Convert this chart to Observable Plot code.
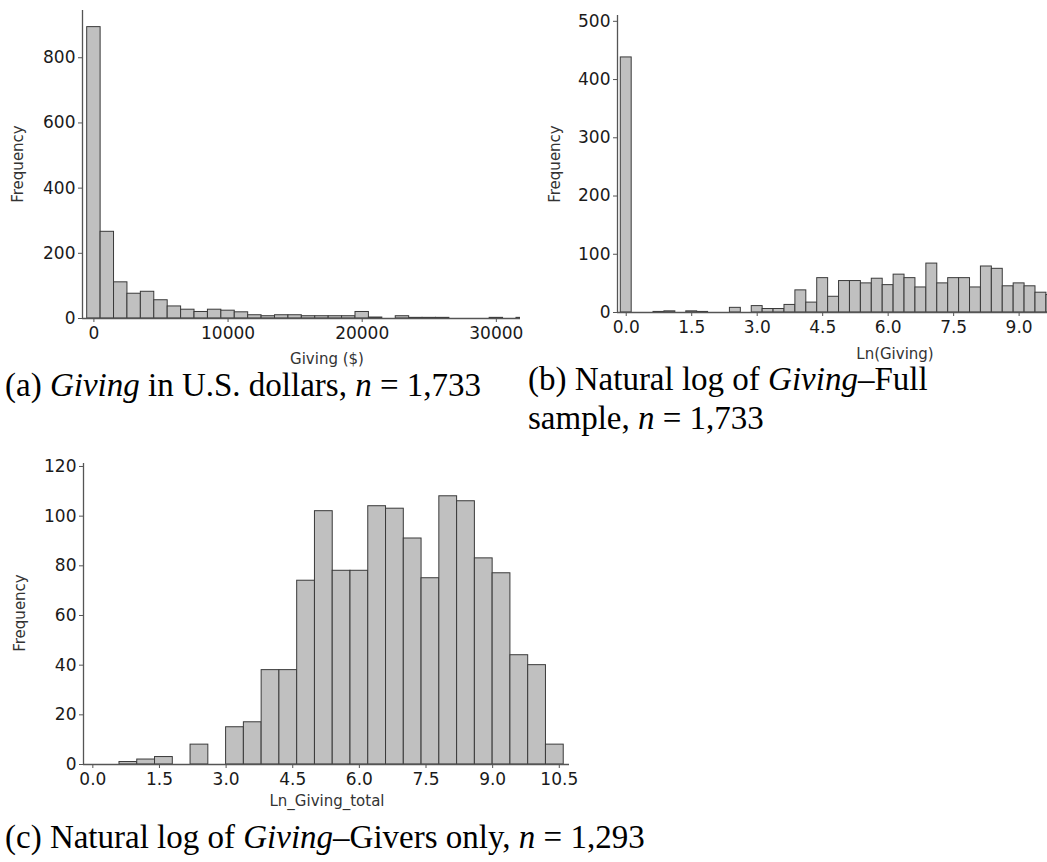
<!DOCTYPE html>
<html>
<head>
<meta charset="utf-8">
<script src="https://cdn.jsdelivr.net/npm/d3@7"></script>
<script src="https://cdn.jsdelivr.net/npm/@observablehq/plot@0.6"></script>
<style>
  html, body { margin: 0; padding: 0; background: #fff; }
  #page { position: relative; width: 1047px; height: 862px; overflow: hidden; background: #fff; }
  .panel { position: absolute; }
  .axt { position: absolute; font-family: "DejaVu Sans", Verdana, sans-serif; font-size: 15px; line-height: 1; color: #333; white-space: nowrap; transform: translate(-50%, -50%); }
  .axt.rot { transform: translate(-50%, -50%) rotate(-90deg); }
  .cap { position: absolute; font-family: "Liberation Serif", "Times New Roman", serif; font-size: 33px; line-height: 1; color: #000; white-space: nowrap; }
</style>
</head>
<body>
<div id="page"></div>
<script>
// ---------- Data ----------
// (a) Giving in U.S. dollars: bin centers (width 1000) and frequencies
const givingBins = [0,1000,2000,3000,4000,5000,6000,7000,8000,9000,10000,11000,12000,13000,14000,15000,16000,17000,18000,19000,20000,21000,22000,23000,24000,25000,26000,27000,28000,29000,30000,31000,32000];
const givingFreq = [894,266,111,76,82,56,37,27,20,27,24,19,10,7,10,10,7,7,7,7,20,3,0,7,2,2,2,0,0,0,2,0,2];
const givingTicksX = [0,10000,20000,30000];
const givingTicksY = [0,200,400,600,800];

// (b) Ln(Giving), full sample: bin centers (width 0.25) and frequencies
const lnFullBins = [0,0.25,0.5,0.75,1,1.25,1.5,1.75,2,2.25,2.5,2.75,3,3.25,3.5,3.75,4,4.25,4.5,4.75,5,5.25,5.5,5.75,6,6.25,6.5,6.75,7,7.25,7.5,7.75,8,8.25,8.5,8.75,9,9.25,9.5,9.75];
const lnFullFreq = [438,0,0,1,2,0,2,1,0,0,8,0,11,6,6,13,38,17,59,27,54,54,50,58,47,65,59,43,84,50,59,59,43,79,75,45,50,45,34,30];
const lnFullTicksX = [0,1.5,3,4.5,6,7.5,9];
const lnFullTicksY = [0,100,200,300,400,500];

// (c) Ln_Giving_total, givers only: bin centers (width 0.4) and frequencies
const lnGiversBins = [0.8,1.2,1.6,2.0,2.4,2.8,3.2,3.6,4.0,4.4,4.8,5.2,5.6,6.0,6.4,6.8,7.2,7.6,8.0,8.4,8.8,9.2,9.6,10.0,10.4];
const lnGiversFreq = [1,2,3,0,8,0,15,17,38,38,74,102,78,78,104,103,91,75,108,106,83,77,44,40,8];
const lnGiversTicksX = [0,1.5,3,4.5,6,7.5,9,10.5];
const lnGiversTicksY = [0,20,40,60,80,100,120];

// ---------- Drawing ----------
const page = document.getElementById("page");
const tickFont = {fontSize: 17, fontFamily: "DejaVu Sans, Verdana, sans-serif", fill: "#1a1a1a"};

function histogram({bins, freq, binWidth, xDomain, yDomain, xTicks, yTicks, xFormat, width, height, margins}) {
  const data = bins.map((c, i) => ({c, n: freq[i]})).filter(d => d.n > 0);
  return Plot.plot({
    width, height,
    marginLeft: margins[0], marginTop: margins[1], marginRight: margins[2], marginBottom: margins[3],
    style: {fontFamily: "DejaVu Sans, Verdana, sans-serif", fontSize: "17px", color: "#1a1a1a", background: "transparent", overflow: "visible"},
    x: {domain: xDomain, label: null},
    y: {domain: yDomain, label: null},
    marks: [
      Plot.rectY(data, {x1: d => d.c - binWidth / 2, x2: d => d.c + binWidth / 2, y: "n", inset: 0,
        fill: "#c0c0c0", stroke: "#3a3a3a", strokeWidth: 1, clip: true}),
      Plot.ruleY([0], {stroke: "#555", strokeWidth: 1.3}),
      Plot.ruleX([xDomain[0]], {y1: yDomain[0], y2: yDomain[1], stroke: "#555", strokeWidth: 1.3}),
      Plot.axisX({ticks: xTicks, tickFormat: xFormat, tickSize: 4, tickPadding: 4, label: null, stroke: "#555", ...tickFont}),
      Plot.axisY({ticks: yTicks, tickSize: 4, tickPadding: 3, label: null, stroke: "#555", ...tickFont})
    ]
  });
}

function place(node, left, top) {
  node.classList.add("panel");
  node.style.left = left + "px";
  node.style.top = top + "px";
  page.appendChild(node);
}

function label(text, x, y, rot) {
  const d = document.createElement("div");
  d.className = "axt" + (rot ? " rot" : "");
  d.textContent = text;
  d.style.left = x + "px";
  d.style.top = y + "px";
  page.appendChild(d);
}

// caption lines positioned by their baseline (line box top = baseline - 28px)
function caption(html, x, baseline) {
  const d = document.createElement("div");
  d.className = "cap";
  d.innerHTML = html;
  d.style.left = x + "px";
  d.style.top = (baseline - 28) + "px";
  page.appendChild(d);
}

// Panel (a)
place(histogram({
  bins: givingBins, freq: givingFreq, binWidth: 1000,
  xDomain: [-850, 31800], yDomain: [0, 945],
  xTicks: givingTicksX, yTicks: givingTicksY, xFormat: d3.format("d"),
  width: 525, height: 345, margins: [82, 10, 5, 27]
}), 0, 0);
label("Giving ($)", 327, 359);
label("Frequency", 18, 164, true);
caption("(a) <i>Giving</i> in U.S. dollars, <i>n</i> = 1,733", 5, 397);

// Panel (b)
place(histogram({
  bins: lnFullBins, freq: lnFullFreq, binWidth: 0.25,
  xDomain: [-0.2, 9.65], yDomain: [0, 510],
  xTicks: lnFullTicksX, yTicks: lnFullTicksY, xFormat: d3.format(".1f"),
  width: 517, height: 340, margins: [87, 15, 0, 28]
}), 530, 0);
label("Ln(Giving)", 895, 354);
label("Frequency", 555, 164, true);
caption("(b) Natural log of <i>Giving</i>–Full", 528, 391);
caption("sample, <i>n</i> = 1,733", 528, 430);

// Panel (c)
place(histogram({
  bins: lnGiversBins, freq: lnGiversFreq, binWidth: 0.4,
  xDomain: [-0.21, 10.73], yDomain: [0, 121.2],
  xTicks: lnGiversTicksX, yTicks: lnGiversTicksY, xFormat: d3.format(".1f"),
  width: 575, height: 340, margins: [83, 13, 6, 26]
}), 0, 450);
label("Ln_Giving_total", 327, 801);
label("Frequency", 20, 613, true);
caption("(c) Natural log of <i>Giving</i>–Givers only, <i>n</i> = 1,293", 5, 849);
</script>
</body>
</html>
